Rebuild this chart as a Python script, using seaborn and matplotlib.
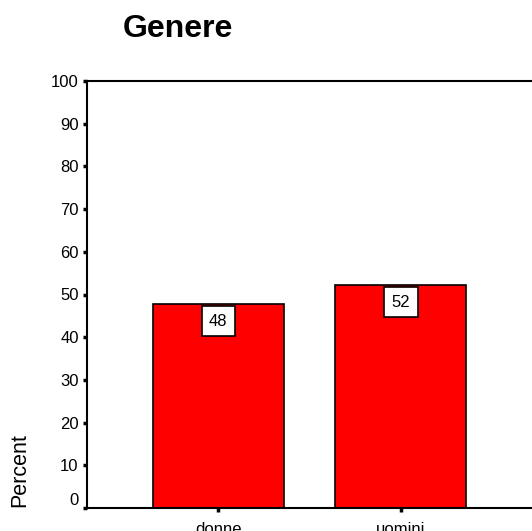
import matplotlib
matplotlib.use("Agg")
import matplotlib.pyplot as plt
import matplotlib.transforms as mtransforms
import seaborn as sns
import pandas as pd

categories = ["donne", "uomini"]
percents = [47.8, 52.2]
value_labels = ["48", "52"]
yticks = [0, 10, 20, 30, 40, 50, 60, 70, 80, 90, 100]

sns.set_theme(style="white")
plt.rcParams['font.family'] = ['Liberation Sans', 'DejaVu Sans']
plt.rcParams['text.color'] = 'black'
plt.rcParams['xtick.color'] = 'black'
plt.rcParams['ytick.color'] = 'black'

df = pd.DataFrame({"Genere": categories, "Percent": percents})

fig = plt.figure(figsize=(5.32, 5.31), dpi=100)
ax = fig.add_axes([87/532, 23/531, 1 - 87/532, (508-81)/531])
sns.barplot(data=df, x="Genere", y="Percent", color="#ff0000", saturation=1,
            width=0.72, edgecolor="black", linewidth=1.2, ax=ax)

ax.set_xlim(-0.72, 1.72)
ax.set_ylim(0, 100)
ax.set_yticks(yticks)
ax.set_yticklabels([str(t) for t in yticks], fontsize=12)
ax.set_xticks(range(len(categories)))
ax.set_xticklabels(categories, fontsize=12)
ax.tick_params(axis='y', direction='out', length=3, width=2.5, color='black', pad=3, left=True)
ax.tick_params(axis='x', direction='out', length=3, width=2.5, color='black', pad=7, bottom=True)

# the "0" label sits slightly above its tick in the reference
lbl0 = ax.get_yticklabels()[0]
lbl0.set_transform(lbl0.get_transform() + mtransforms.ScaledTranslation(0, 9/100, fig.dpi_scale_trans))

for s in ["left", "bottom", "top"]:
    ax.spines[s].set_visible(True)
    ax.spines[s].set_color("black")
    ax.spines[s].set_linewidth(1.5)
ax.spines["right"].set_visible(False)

for p, lab in zip(ax.patches, value_labels):
    x = p.get_x() + p.get_width() / 2
    ax.annotate(lab, (x, p.get_height()), xytext=(0, -12.5), textcoords="offset points",
                ha="center", va="center", fontsize=12,
                bbox=dict(boxstyle="square,pad=0.45", fc="white", ec="black", lw=1.2))

ax.set_xlabel("")
ax.set_ylabel("")
fig.text(20/532, 1 - 470/531, "Percent", rotation=90, fontsize=15.5, ha="center", va="center")
fig.text(123/532, 1 - 29/531, "Genere", fontsize=23, fontweight="bold", ha="left", va="center")

fig.savefig("out.png", dpi=100)
